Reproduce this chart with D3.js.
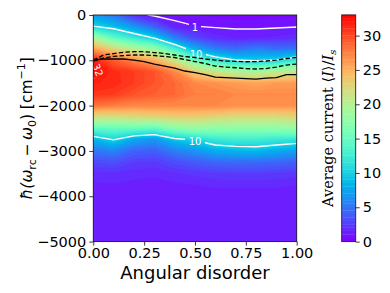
<!DOCTYPE html>
<html>
<head>
<meta charset="utf-8">
<script src="https://cdn.jsdelivr.net/npm/d3@7"></script>
<style>
  body { margin: 0; background: #fff; }
  svg { display: block; font-family: "DejaVu Sans", sans-serif; }
</style>
</head>
<body>
<svg id="chart" width="390" height="293"></svg>
<script>
// grid: one column of currents per disorder value, top (0) to bottom (-5000)
var disorder = [0, 0.1, 0.2, 0.3, 0.4, 0.5, 0.6, 0.7, 0.8, 0.9, 1.0];
var detuning = [0, -250, -500, -750, -1000, -1250, -1500, -1750, -2000, -2250, -2500,
                -2750, -3000, -3250, -3500, -3750, -4000, -4250, -4500, -4750, -5000];
var current = [
    [7.0, 10.1, 19, 26, 31.8, 32.6, 31.6, 30.8, 28, 21.5, 14.5, 8.2, 5.0, 3.0, 1.8, 1.4, 1.2, 1.12, 1.08, 1.06, 1.05],
    [5.0, 8.8, 14.5, 22.5, 29, 31.2, 31.3, 30.5, 27.5, 21.5, 15, 10.1, 5.8, 3.3, 1.9, 1.45, 1.22, 1.12, 1.08, 1.06, 1.05],
    [1.8, 6.5, 12, 20, 27, 30.5, 30.5, 29.5, 27, 22, 15, 7.5, 4.2, 2.5, 1.7, 1.35, 1.18, 1.1, 1.07, 1.06, 1.05],
    [0.7, 4.0, 9.7, 18, 25, 29.5, 29.5, 29, 27, 22.5, 14.5, 6.5, 4.0, 2.4, 1.6, 1.3, 1.15, 1.1, 1.07, 1.06, 1.05],
    [0.7, 1.3, 5.5, 13, 21, 27, 28.5, 28.5, 27, 23, 17, 9.2, 5.5, 3.2, 1.9, 1.4, 1.2, 1.12, 1.08, 1.06, 1.05],
    [0.5, 1.02, 3.0, 8, 15.5, 23, 27, 27.5, 27, 23, 18, 10.3, 6.5, 3.8, 2.2, 1.5, 1.25, 1.12, 1.08, 1.06, 1.05],
    [0.4, 0.9, 1.8, 5.5, 12, 21, 26.5, 27.5, 27, 22.5, 17.5, 12, 7.8, 4.3, 2.4, 1.6, 1.25, 1.12, 1.08, 1.06, 1.05],
    [0.3, 0.85, 1.5, 4.6, 10.1, 19.5, 26, 27, 26.5, 22, 17.5, 12.5, 8.3, 4.5, 2.5, 1.6, 1.25, 1.12, 1.08, 1.06, 1.05],
    [0.3, 0.85, 1.5, 5.5, 9.6, 19, 25.5, 27, 26.5, 22, 17.5, 12.5, 8.5, 4.5, 2.5, 1.6, 1.25, 1.12, 1.08, 1.06, 1.05],
    [0.35, 0.9, 1.6, 4.8, 10.2, 20, 26, 27, 26.5, 22, 17.5, 12, 7.8, 4.3, 2.4, 1.6, 1.25, 1.12, 1.08, 1.06, 1.05],
    [0.4, 0.95, 1.8, 5.0, 12, 21, 26, 27, 26.5, 22.5, 18, 11.5, 7.0, 4.0, 2.2, 1.5, 1.22, 1.12, 1.08, 1.06, 1.05]
];
var contourLevels = [1, 10, 32];

// the black solid and dashed curves
var lineX = [0, 0.05, 0.1, 0.15, 0.2, 0.25, 0.3, 0.35, 0.4, 0.45, 0.5,
             0.55, 0.6, 0.65, 0.7, 0.75, 0.8, 0.85, 0.9, 0.95, 1.0];
var solidY = [-994, -971, -971, -971, -994, -1027, -1082, -1126, -1170, -1236, -1270,
              -1314, -1369, -1380, -1391, -1402, -1413, -1391, -1380, -1314, -1314];
var dashUpperY = [-994, -883, -850, -821, -810, -810, -828, -850, -883, -916, -938,
                  -971, -994, -1015, -1022, -1031, -1027, -1015, -994, -960, -934];
var dashLowerY = [-1016, -950, -912, -896, -883, -883, -894, -916, -938, -983, -1027,
                  -1071, -1126, -1148, -1164, -1181, -1192, -1181, -1148, -1104, -1082];

var contourLabels = [
    {text: "1", x: 0.5, y: -265, angle: 0},
    {text: "10", x: 0.505, y: -861, angle: 0},
    {text: "10", x: 0.5, y: -2782, angle: 0},
    {text: "32", x: 0.022, y: -1214, angle: 70}
];

var xTicks = [0, 0.25, 0.5, 0.75, 1.0];
var yTicks = [0, -1000, -2000, -3000, -4000, -5000];
var cbarTicks = [0, 5, 10, 15, 20, 25, 30];
var cbarMax = 33;
var levelStep = 0.5;

// matplotlib "rainbow"
function rainbow(t) {
    t = Math.max(0, Math.min(1, t));
    var r = Math.min(1, Math.abs(2 * t - 0.5)),
        g = Math.sin(Math.PI * t),
        b = Math.cos(Math.PI * t / 2);
    return d3.rgb(r * 255, g * 255, b * 255).toString();
}

var svg = d3.select("#chart");
var pLeft = 93.3, pRight = 296.7, pTop = 15, pBottom = 241.6;

var x = d3.scaleLinear().domain([0, 1]).range([pLeft, pRight]);
var y = d3.scaleLinear().domain([-5000, 0]).range([pBottom, pTop]);

var nx = disorder.length, ny = detuning.length;
var colToX = d3.scaleLinear().domain(d3.range(nx)).range(disorder);
var rowToY = d3.scaleLinear().domain(d3.range(ny)).range(detuning);

var values = new Array(nx * ny);
for (var j = 0; j < ny; j++) {
    for (var i = 0; i < nx; i++) {
        values[j * nx + i] = current[i][j];
    }
}

// grid samples sit at cell centres in d3.contours
var proj = d3.geoTransform({
    point: function(px, py) {
        this.stream.point(x(colToX(px - 0.5)), y(rowToY(py - 0.5)));
    }
});
var path = d3.geoPath(proj);

var defs = svg.append("defs");
defs.append("clipPath").attr("id", "plotclip")
    .append("rect")
    .attr("x", pLeft).attr("y", pTop)
    .attr("width", pRight - pLeft).attr("height", pBottom - pTop);

// cut gaps in the contour lines where the labels sit
var mask = defs.append("mask").attr("id", "labelmask")
    .attr("maskUnits", "userSpaceOnUse")
    .attr("x", 0).attr("y", 0).attr("width", 390).attr("height", 293);
mask.append("rect").attr("width", 390).attr("height", 293).attr("fill", "white");
mask.selectAll("g.gap")
    .data(contourLabels)
    .enter().append("g")
    .attr("transform", function(d) {
        return "translate(" + x(d.x) + "," + y(d.y) + ")rotate(" + d.angle + ")";
    })
    .append("rect")
    .attr("x", function(d) { return -d.text.length * 4 - 2; })
    .attr("y", -6)
    .attr("width", function(d) { return d.text.length * 8 + 4; })
    .attr("height", 12)
    .attr("fill", "black");

var plot = svg.append("g").attr("clip-path", "url(#plotclip)");

plot.append("rect")
    .attr("x", pLeft).attr("y", pTop)
    .attr("width", pRight - pLeft).attr("height", pBottom - pTop)
    .attr("fill", rainbow(0));

var thresholds = d3.range(0, cbarMax, levelStep);
var bands = d3.contours().size([nx, ny]).thresholds(thresholds)(values);

plot.append("g")
    .selectAll("path")
    .data(bands)
    .enter().append("path")
    .attr("d", path)
    .attr("fill", function(d) { return rainbow((d.value + levelStep / 2) / cbarMax); })
    .attr("stroke", function(d) { return rainbow((d.value + levelStep / 2) / cbarMax); })
    .attr("stroke-width", 0.3);

var lines = d3.contours().size([nx, ny]).thresholds(contourLevels)(values);

plot.append("g")
    .attr("mask", "url(#labelmask)")
    .selectAll("path")
    .data(lines)
    .enter().append("path")
    .attr("d", path)
    .attr("fill", "none")
    .attr("stroke", "white")
    .attr("stroke-width", 1.4);

plot.selectAll("text.clabel")
    .data(contourLabels)
    .enter().append("text")
    .attr("class", "clabel")
    .attr("transform", function(d) {
        return "translate(" + x(d.x) + "," + y(d.y) + ")rotate(" + d.angle + ")";
    })
    .attr("text-anchor", "middle")
    .attr("dy", "0.36em")
    .attr("font-size", 10)
    .attr("fill", "white")
    .text(function(d) { return d.text; });

var curve = function(ys) {
    return d3.line()
        .x(function(d, k) { return x(lineX[k]); })
        .y(function(d) { return y(d); })(ys);
};

plot.append("path").attr("d", curve(solidY))
    .attr("fill", "none").attr("stroke", "black").attr("stroke-width", 1.3);
plot.append("path").attr("d", curve(dashUpperY))
    .attr("fill", "none").attr("stroke", "black").attr("stroke-width", 1.3)
    .attr("stroke-dasharray", "4.5,2.2");
plot.append("path").attr("d", curve(dashLowerY))
    .attr("fill", "none").attr("stroke", "black").attr("stroke-width", 1.3)
    .attr("stroke-dasharray", "4.5,2.2");

// frame and axes
svg.append("rect")
    .attr("x", pLeft).attr("y", pTop)
    .attr("width", pRight - pLeft).attr("height", pBottom - pTop)
    .attr("fill", "none").attr("stroke", "#222").attr("stroke-width", 0.9);

var xAxis = svg.append("g")
    .attr("transform", "translate(0," + pBottom + ")")
    .call(d3.axisBottom(x).tickValues(xTicks).tickSize(4).tickPadding(2)
        .tickFormat(d3.format(".2f")));
var yAxis = svg.append("g")
    .attr("transform", "translate(" + pLeft + ",0)")
    .call(d3.axisLeft(y).tickValues(yTicks).tickSize(4).tickPadding(3)
        .tickFormat(function(d) { return d < 0 ? "\u2212" + Math.abs(d) : d; }));

[xAxis, yAxis].forEach(function(a) {
    a.select(".domain").remove();
    a.selectAll(".tick line").attr("stroke", "#222").attr("stroke-width", 0.9);
    a.selectAll(".tick text")
        .attr("font-family", "DejaVu Sans")
        .attr("font-size", 14.5)
        .attr("fill", "black");
});

svg.append("text")
    .attr("x", (pLeft + pRight) / 2)
    .attr("y", 279)
    .attr("text-anchor", "middle")
    .attr("font-size", 18)
    .text("Angular disorder");

var ylab = svg.append("text")
    .attr("transform", "translate(32," + ((pTop + pBottom) / 2) + ")rotate(-90)")
    .attr("text-anchor", "middle")
    .attr("font-size", 15.5);
ylab.append("tspan").attr("font-style", "italic").text("\u0127(\u03c9");
ylab.append("tspan").attr("font-size", 11).attr("dy", 4).text("rc");
ylab.append("tspan").attr("dy", -4).text("\u2009\u2212\u2009");
ylab.append("tspan").attr("font-style", "italic").text("\u03c9");
ylab.append("tspan").attr("font-size", 11).attr("dy", 4).text("0");
ylab.append("tspan").attr("dy", -4).text(") [cm");
ylab.append("tspan").attr("font-size", 11).attr("dy", -7).text("\u22121");
ylab.append("tspan").attr("dy", 7).text("]");

// colorbar
var cbLeft = 341.7, cbRight = 355.7;
var c = d3.scaleLinear().domain([0, cbarMax]).range([pBottom, pTop]);

svg.append("g")
    .selectAll("rect")
    .data(thresholds)
    .enter().append("rect")
    .attr("x", cbLeft)
    .attr("width", cbRight - cbLeft)
    .attr("y", function(d) { return c(Math.min(cbarMax, d + levelStep)) - 0.3; })
    .attr("height", function(d) { return c(d) - c(Math.min(cbarMax, d + levelStep)) + 0.3; })
    .attr("fill", function(d) { return rainbow((d + levelStep / 2) / cbarMax); });

svg.append("rect")
    .attr("x", cbLeft).attr("y", pTop)
    .attr("width", cbRight - cbLeft).attr("height", pBottom - pTop)
    .attr("fill", "none").attr("stroke", "#222").attr("stroke-width", 0.9);

var cAxis = svg.append("g")
    .attr("transform", "translate(" + cbRight + ",0)")
    .call(d3.axisRight(c).tickValues(cbarTicks).tickSize(4).tickPadding(3));
cAxis.select(".domain").remove();
cAxis.selectAll(".tick line").attr("stroke", "#222").attr("stroke-width", 0.9);
cAxis.selectAll(".tick text")
    .attr("font-family", "DejaVu Sans")
    .attr("font-size", 14.5)
    .attr("fill", "black");

var clab = svg.append("text")
    .attr("transform", "translate(333," + ((pTop + pBottom) / 2) + ")rotate(-90)")
    .attr("text-anchor", "middle")
    .attr("font-family", "DejaVu Serif")
    .attr("font-size", 14.5);
clab.append("tspan").text("Average current \u27e8");
clab.append("tspan").attr("font-style", "italic").text("I");
clab.append("tspan").text("\u27e9/");
clab.append("tspan").attr("font-style", "italic").text("I");
clab.append("tspan").attr("font-style", "italic").attr("font-size", 10).attr("dy", 3).text("s");
</script>
</body>
</html>
